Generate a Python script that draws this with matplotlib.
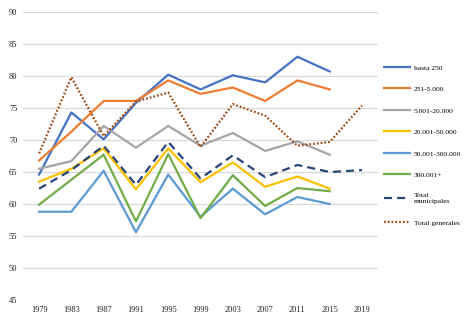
import numpy as np
import matplotlib
matplotlib.use("Agg")
import matplotlib.pyplot as plt

years = ["1979", "1983", "1987", "1991", "1995", "1999", "2003", "2007", "2011", "2015", "2019"]

hasta_250 = [64.6, 74.3, 70.1, 75.8, 80.2, 77.9, 80.1, 79.0, 83.0, 80.7, np.nan]
de_251_5000 = [66.8, 71.3, 76.1, 76.1, 79.3, 77.2, 78.2, 76.1, 79.3, 77.9, np.nan]
de_5001_20000 = [65.5, 66.7, 72.2, 68.8, 72.2, 69.1, 71.1, 68.3, 69.8, 67.7, np.nan]
de_20001_50000 = [63.5, 65.5, 68.7, 62.3, 68.7, 63.4, 66.5, 62.7, 64.3, 62.4, np.nan]
de_50001_300000 = [58.8, 58.8, 65.2, 55.6, 64.6, 58.0, 62.4, 58.4, 61.1, 60.0, np.nan]
mas_300001 = [59.9, 63.8, 67.7, 57.3, 67.8, 57.8, 64.5, 59.7, 62.5, 62.0, np.nan]
total_municipales = [62.4, 65.3, 69.1, 63.0, 69.7, 64.0, 67.6, 64.2, 66.1, 65.0, 65.3]
total_generales = [67.9, 79.8, 70.6, 76.0, 77.4, 68.9, 75.6, 73.8, 69.1, 69.7, 75.4]

plt.rcParams["font.family"] = ["Liberation Serif", "DejaVu Serif"]

fig = plt.figure(figsize=(4.68, 3.22), dpi=100)
ax = fig.add_axes([0.049, 0.068, 0.759, 0.895])

x = np.arange(len(years))
lw = 1.6
ax.plot(x, hasta_250, color="#4472C4", lw=lw, label="hasta 250")
ax.plot(x, de_251_5000, color="#ED7D31", lw=lw, label="251-5.000")
ax.plot(x, de_5001_20000, color="#A5A5A5", lw=lw, label="5.001-20.000")
ax.plot(x, de_20001_50000, color="#FFC000", lw=lw, label="20.001-50.000")
ax.plot(x, de_50001_300000, color="#5B9BD5", lw=lw, label="50.001-300.000")
ax.plot(x, mas_300001, color="#70AD47", lw=lw, label="300.001+")
ax.plot(x, total_municipales, color="#264478", lw=lw, dashes=(3.6, 2.3),
        label="Total\nmunicipales")
ax.plot(x, total_generales, color="#9E480E", lw=lw, dashes=(0.8, 0.9),
        dash_capstyle="butt", label="Total generales")

ax.set_xlim(-0.5, len(years) - 0.5)
ax.set_ylim(45, 90)
ax.set_yticks(range(45, 91, 5))
ax.set_xticks(x)
ax.set_xticklabels(years)
ax.tick_params(length=0, labelsize=6, colors="#222222", pad=4)
ax.grid(axis="y", color="#d9d9d9", lw=0.9)
ax.set_axisbelow(True)
for s in ax.spines.values():
    s.set_visible(False)

fig.legend(loc="upper left", bbox_to_anchor=(0.820, 0.80), frameon=False,
           fontsize=5.4, handlelength=3.5, handletextpad=0.5, labelspacing=2.03,
           borderpad=0, borderaxespad=0)

plt.savefig("out.png", dpi=100)
plt.close()
